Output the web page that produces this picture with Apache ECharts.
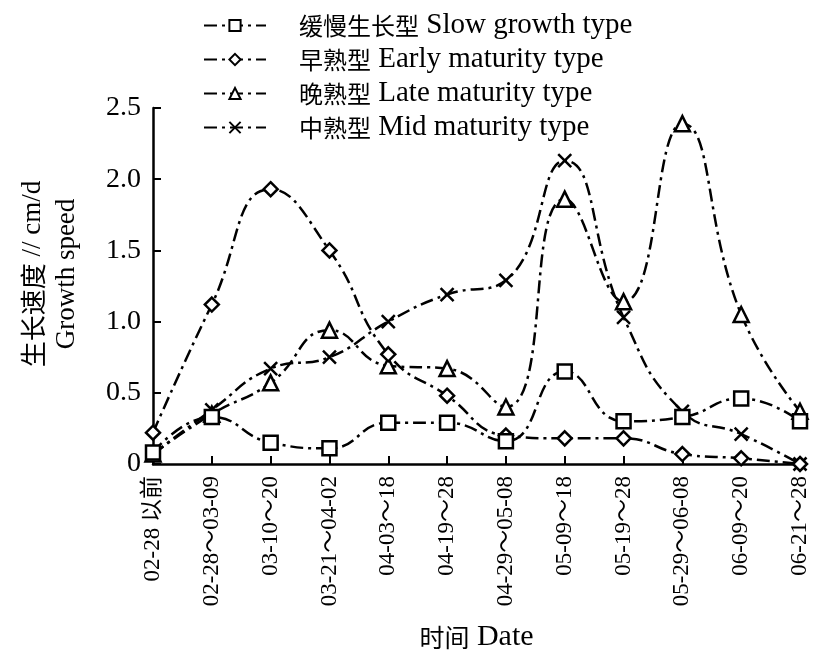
<!DOCTYPE html>
<html>
<head>
<meta charset="utf-8">
<script src="https://cdn.jsdelivr.net/npm/echarts@6/dist/echarts.min.js"></script>
<style>
  html,body{margin:0;padding:0;background:#fff;}
  #main{width:833px;height:654px;}
</style>
</head>
<body>
<div id="main"></div>
<script>
  // 时间段
  var dates = ['02-28 以前','02-28～03-09','03-10～20','03-21～04-02','04-03～18','04-19～28',
    '04-29～05-08','05-09～18','05-19～28','05-29～06-08','06-09～20','06-21～28'];
  var yTicks = [0, 0.5, 1.0, 1.5, 2.0, 2.5];
  var namesCn = ['缓慢生长型','早熟型','晚熟型','中熟型'];
  var namesEn = ['Slow growth type','Early maturity type','Late maturity type','Mid maturity type'];
  var slowGrowth = [0.08,0.33,0.15,0.11,0.29,0.29,0.16,0.65,0.30,0.33,0.46,0.30];
  var earlyMaturity = [0.22,1.12,1.93,1.50,0.77,0.48,0.20,0.18,0.18,0.07,0.04,0.0];
  var lateMaturity = [0.07,0.35,0.57,0.94,0.69,0.67,0.40,1.86,1.14,2.39,1.05,0.37];
  var midMaturity = [0.07,0.38,0.67,0.75,1.00,1.19,1.29,2.13,1.03,0.37,0.21,0.0];

  var fontFam = '"Liberation Serif","Noto Sans CJK SC",serif';
  var crossPath = 'path://M0,0L10,10M10,0L0,10';
  var symbols = ['rect','diamond','triangle',crossPath];
  var sizes = [14,14,15,13];
  var values = [slowGrowth,earlyMaturity,lateMaturity,midMaturity];

  var myChart = echarts.init(document.getElementById('main'));
  var series = [], legends = [];
  for (var i=0;i<values.length;i++){
    var nm = namesCn[i] + ' ' + namesEn[i];
    legends.push(nm);
    series.push({
      name: nm,
      type: 'line',
      data: values[i],
      smooth: 0.5,
      symbol: symbols[i],
      symbolSize: sizes[i],
      showAllSymbol: true,
      z: 10 - i,
      itemStyle:{
        color: '#fff',
        borderColor: '#000',
        borderWidth: 2.5
      },
      lineStyle:{
        color:'#000',
        width: 2.5,
        type: [13,5,3,5]
      }
    });
  }

  var option = {
    animation:false,
    backgroundColor:'#fff',
    legend:{
      orient:'vertical',
      left: 198,
      top: 6,
      itemWidth: 62,
      itemHeight: 14,
      itemGap: 5,
      formatter:function(name){
        var k = legends.indexOf(name);
        return '{cn|' + namesCn[k] + '}{en| ' + namesEn[k] + '}';
      },
      textStyle:{
        fontFamily: fontFam,
        color:'#000',
        padding:[0,0,0,28],
        rich:{
          cn:{fontFamily:'"Noto Sans CJK SC",sans-serif',fontSize:24,lineHeight:28,color:'#000'},
          en:{fontFamily:'"Liberation Serif",serif',fontSize:29,lineHeight:28,color:'#000'}
        }
      },
      data: legends
    },
    grid:{
      left: 153,
      right: 33,
      top: 108,
      bottom: 190,
      containLabel:false,
      outerBoundsMode:'none'
    },
    xAxis:{
      type:'category',
      data: dates,
      boundaryGap:false,
      name:'{cn|时间}{en| Date}',
      nameLocation:'middle',
      nameGap: 158,
      nameTextStyle:{
        rich:{
          cn:{fontFamily:'"Noto Sans CJK SC",sans-serif',fontSize:25,color:'#000'},
          en:{fontFamily:'"Liberation Serif",serif',fontSize:30,color:'#000'}
        }
      },
      axisLine:{lineStyle:{color:'#000',width:2.5}},
      axisTick:{inside:true,length:8,lineStyle:{color:'#000',width:2},alignWithLabel:true},
      axisLabel:{
        rotate:90,
        interval:0,
        margin:12,
        fontFamily:fontFam,
        fontSize:23,
        color:'#000'
      },
      splitLine:{show:false}
    },
    yAxis:{
      type:'value',
      min:0,
      max:2.5,
      interval:0.5,
      name:'{cn|生长速度}{en| // cm/d}\n{en|Growth speed}',
      nameLocation:'middle',
      nameRotate:90,
      nameGap: 69,
      nameTextStyle:{
        padding:[0,0,0,24],
        rich:{
          cn:{fontFamily:'"Noto Sans CJK SC",sans-serif',fontSize:26,lineHeight:34,color:'#000'},
          en:{fontFamily:'"Liberation Serif",serif',fontSize:27,lineHeight:34,color:'#000'}
        }
      },
      axisLine:{show:true,lineStyle:{color:'#000',width:2.5}},
      axisTick:{show:true,inside:true,length:8,lineStyle:{color:'#000',width:2}},
      axisLabel:{
        margin:12,
        fontFamily:fontFam,
        fontSize:28,
        color:'#000',
        formatter:function(v){
          return v===0 ? '0' : v.toFixed(1);
        }
      },
      splitLine:{show:false}
    },
    series: series
  };

  myChart.setOption(option);
</script>
</body>
</html>
